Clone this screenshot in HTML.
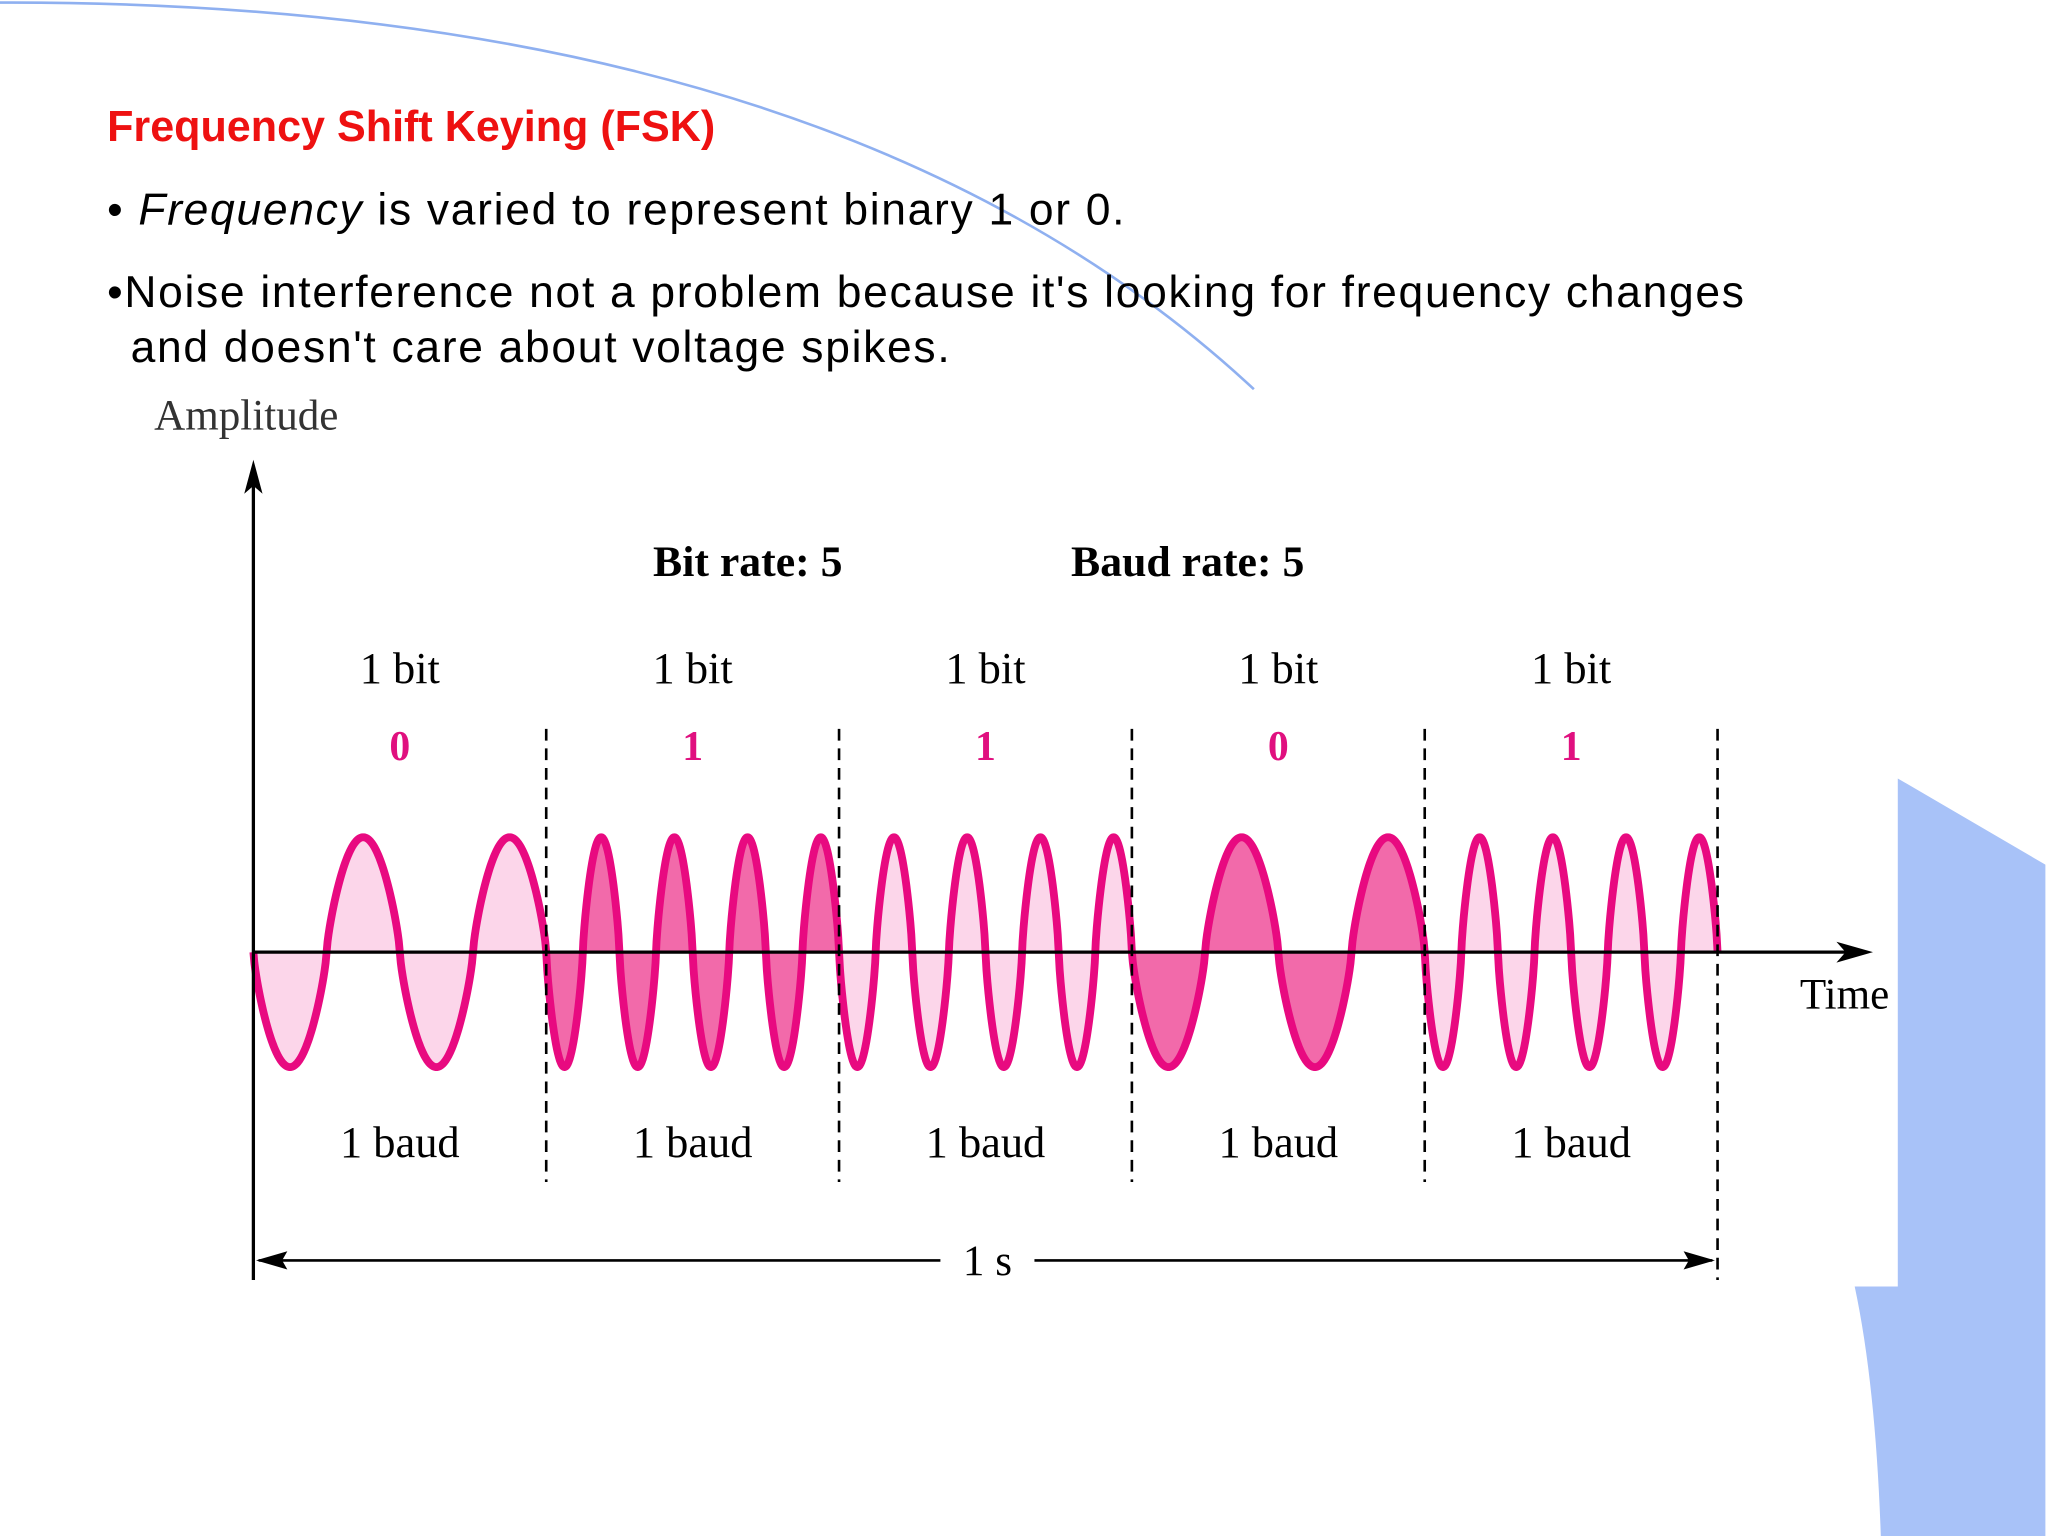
<!DOCTYPE html>
<html><head><meta charset="utf-8"><style>
html,body{margin:0;padding:0;background:#fff;}
svg{display:block;}
</style></head><body>
<svg id="chart" width="2048" height="1536" viewBox="0 0 1568 1176" xmlns="http://www.w3.org/2000/svg">
<rect width="1568" height="1176" fill="#fff"/>
<path d="M0,2 Q640,0 960,298" fill="none" stroke="#8fb0f0" stroke-width="2"/>
<path d="M1453,596 L1566,662 L1566,1176 L1440,1176 Q1436,1060 1420,985 L1453,985 Z" fill="#a8c2f8"/>
<text x="82" y="108" font-family="Liberation Sans, sans-serif" font-weight="bold" font-size="33" fill="#ee1111">Frequency Shift Keying (FSK)</text>
<g font-family="Liberation Sans, sans-serif" font-size="34" fill="#000" letter-spacing="1.3">
<text x="82" y="172">• <tspan font-style="italic">Frequency</tspan> is varied to represent binary 1 or 0.</text>
<text x="82" y="235">•Noise interference not a problem because it's looking for frequency changes</text>
<text x="100" y="277">and doesn't care about voltage spikes.</text>
</g>
<g id="plot" font-family="Liberation Serif, serif"></g>
</svg>
<script>
const bits = [0, 1, 1, 0, 1];
const cyclesPerBit = {0: 2, 1: 4};
const fillColors = ["#fcd6ea", "#f26aaa", "#fcd6ea", "#f26aaa", "#fcd6ea"];
const bitLabels = ["1 bit", "1 bit", "1 bit", "1 bit", "1 bit"];
const baudLabels = ["1 baud", "1 baud", "1 baud", "1 baud", "1 baud"];
const NS = "http://www.w3.org/2000/svg";
const g = document.getElementById("plot");
const x0 = 194, x1 = 1315, yBase = 729, amp = 88;
const segW = (x1 - x0) / bits.length;
const xPos = t => x0 + t * (x1 - x0);
const yPos = v => yBase - v * amp;
function mk(tag, attrs) { const e = document.createElementNS(NS, tag); for (const k in attrs) e.setAttribute(k, attrs[k]); g.appendChild(e); return e; }
function wavePts(i, b) {
  const n = cyclesPerBit[b];
  let pts = [];
  for (let k = 0; k <= 300; k++) {
    const f = k / 300;
    const t = (i + f) / bits.length;
    const s = -Math.sin(2 * Math.PI * n * f);
    const v = Math.sign(s) * Math.pow(Math.abs(s), 0.75);
    pts.push(xPos(t).toFixed(2) + "," + yPos(v).toFixed(2));
  }
  return pts;
}
bits.forEach((b, i) => {
  const fill = mk("path", {d: "M" + wavePts(i, b).join(" L") + " Z", fill: fillColors[i], stroke: "none"});
  
  
});
bits.forEach((b, i) => {
  const c = mk("path", {d: "M" + wavePts(i, b).join(" L"), fill: "none", stroke: "#e80a80", "stroke-width": 6, "stroke-linejoin": "round"});
  
  
});
for (let i = 1; i <= bits.length; i++) {
  const x = xPos(i / bits.length);
  const l = mk("line", {x1: x, x2: x, y1: 558, y2: i === bits.length ? 980 : 905, stroke: "#000", "stroke-width": 2, "stroke-dasharray": "9,6"});
  
  
}
let ax = mk("line", {x1: x0, x2: x0, y1: 365, y2: 980, stroke: "#000", "stroke-width": 2.5});


let ah = mk("path", {d: "M194,352 L187,378 L194,372 L201,378 Z", fill: "#000"});


let xa = mk("line", {x1: x0, x2: 1420, y1: yBase, y2: yBase, stroke: "#000", "stroke-width": 2.5});


let xh = mk("path", {d: "M1434,729 L1406,721 L1413,729 L1406,737 Z", fill: "#000"});


function txt(x, y, s, size, opts, name) {
  const e = mk("text", Object.assign({x: x, y: y, "font-size": size, fill: "#000"}, opts || {}));
  e.textContent = s;
  
  
  return e;
}
txt(118, 329, "Amplitude", 33, {fill: "#333"}, "y-axis-title");
txt(1378, 772, "Time", 33, {}, "x-axis-title");
txt(500, 441, "Bit rate: 5", 33.5, {"font-weight": "bold"}, "bit-rate-label");
txt(820, 441, "Baud rate: 5", 33.5, {"font-weight": "bold"}, "baud-rate-label");
bits.forEach((b, i) => {
  const cx = x0 + segW * (i + 0.5);
  txt(cx, 523, bitLabels[i], 34, {"text-anchor": "middle"}, "bit-label-" + i);
  txt(cx, 582, String(b), 32, {"text-anchor": "middle", "font-weight": "bold", fill: "#e0107f"}, "bit-value-" + i);
  txt(cx, 886, baudLabels[i], 34, {"text-anchor": "middle"}, "baud-label-" + i);
});
let d1 = mk("line", {x1: x0 + 4, x2: 720, y1: 965, y2: 965, stroke: "#000", "stroke-width": 2});


let d2 = mk("line", {x1: 792, x2: x1 - 4, y1: 965, y2: 965, stroke: "#000", "stroke-width": 2});


let a1 = mk("path", {d: "M196,965 L220,958 L216,965 L220,972 Z", fill: "#000"});


let a2 = mk("path", {d: "M1313,965 L1289,958 L1293,965 L1289,972 Z", fill: "#000"});


txt(756, 976, "1 s", 33, {"text-anchor": "middle"}, "duration-label");
</script>
</body></html>
